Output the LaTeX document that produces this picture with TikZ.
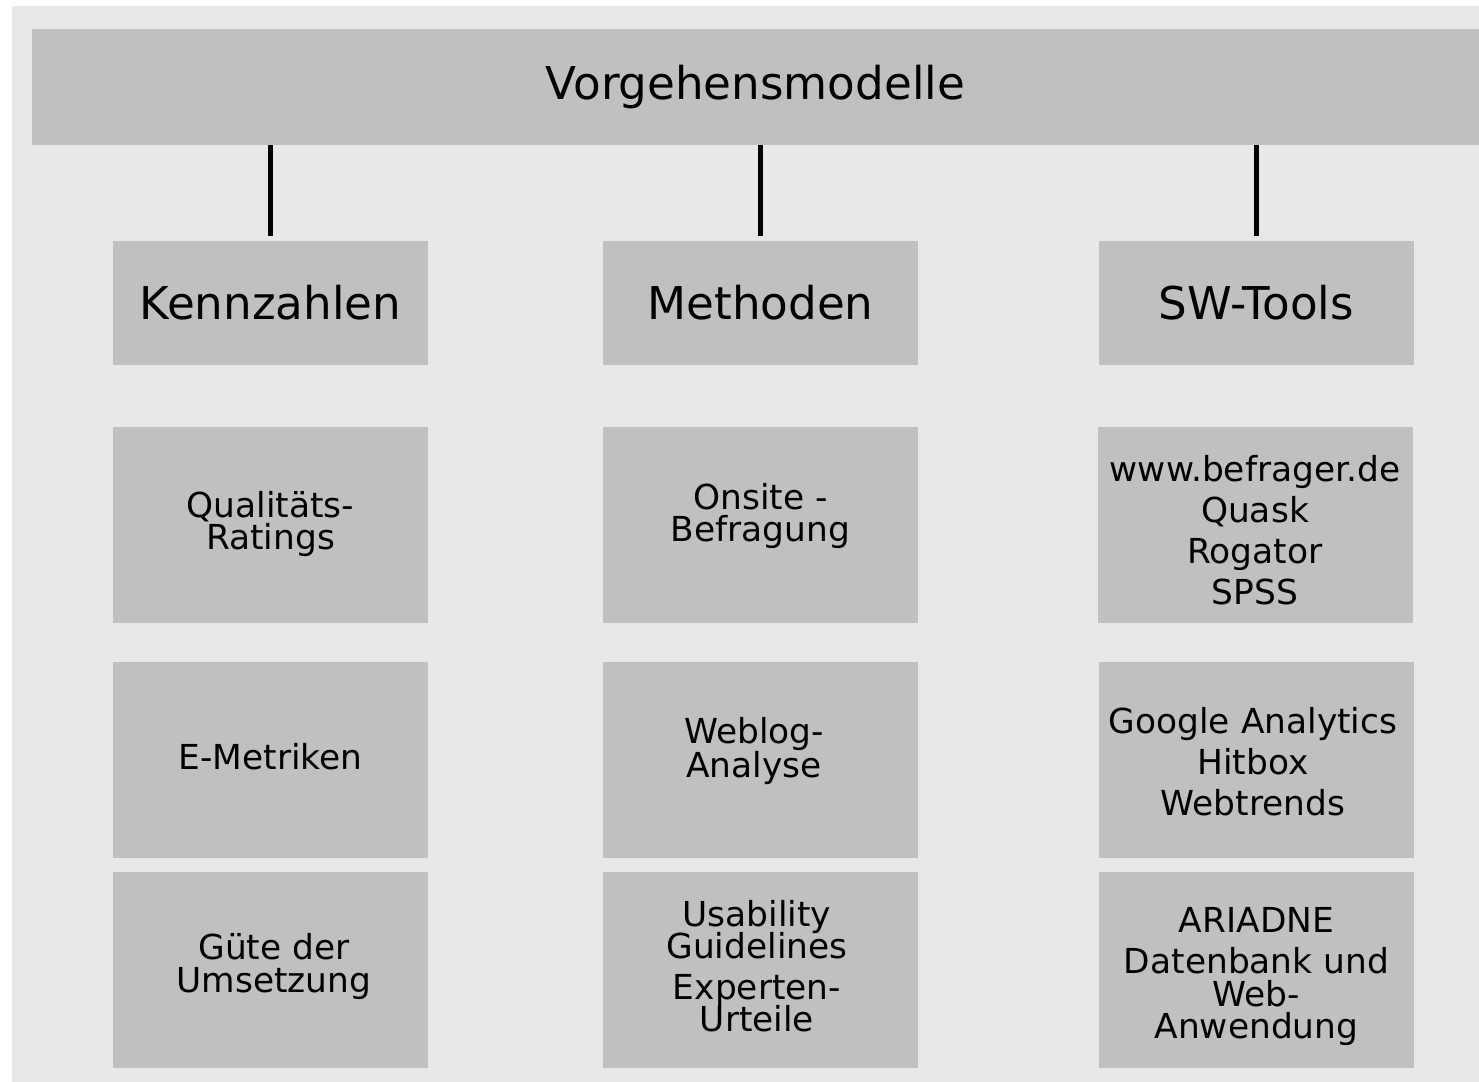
\documentclass[tikz,border=0pt]{standalone}
\usepackage{fontspec}
\setmainfont{DejaVu Sans}
\definecolor{bgc}{HTML}{E8E8E8}
\definecolor{boxc}{HTML}{C0C0C0}
\newcommand{\bigtxt}{\fontsize{22.6}{26}\selectfont}
\newcommand{\smalltxt}{\fontsize{17.2}{20.5}\selectfont}
\begin{document}
\begin{tikzpicture}[x=0.5pt,y=-0.5pt,
  box/.style={fill=boxc,draw=none,inner sep=0pt,minimum width=157.5pt,minimum height=98pt},
  headbox/.style={box,minimum height=62pt,font=\bigtxt},
  txt/.style={inner sep=0pt,align=center,font=\smalltxt},
  conn/.style={draw=black,line width=2.5pt}]
\useasboundingbox (0,0) rectangle (1479,1082);
\fill[white] (0,0) rectangle (1479,1082);
\fill[bgc] (12,6) rectangle (1500,1100);
\node[fill=boxc,inner sep=0pt,minimum width=723.5pt,minimum height=58pt,font=\bigtxt] (top) at (755.5,87) {Vorgehensmodelle};
% headers
\node[headbox] (k) at (270.5,303) {Kennzahlen};
\node[headbox] (m) at (760.5,303) {Methoden};
\node[headbox] (s) at (1256.5,303) {SW-Tools};
% boxes
\node[box] (k1) at (270.5,525) {};
\node[box] (m1) at (760.5,525) {};
\node[box] (s1) at (1255,525) {};
\node[box] (k2) at (270.5,760) {};
\node[box] (m2) at (760.5,760) {};
\node[box] (s2) at (1256.5,760) {};
\node[box] (k3) at (270.5,970) {};
\node[box] (m3) at (760.5,970) {};
\node[box] (s3) at (1256.5,970) {};
% texts
\node[txt] (k1t) at (270.5,524) {Qualitäts-\\[-4.5pt]Ratings};
\node[txt] (m1t) at (760.5,516) {Onsite -\\[-4.5pt]Befragung};
\node[txt] (s1t) at (1255,530) {www.befrager.de\\Quask\\Rogator\\SPSS};
\node[txt] (k2t) at (270.5,757) {E-Metriken};
\node[txt] (m2t) at (754,751) {Weblog-\\[-3.5pt]Analyse};
\node[txt] (s2t) at (1253,762) {Google Analytics\\Hitbox\\Webtrends};
\node[txt] (k3t) at (274,966) {Güte der\\[-4pt]Umsetzung};
\node[txt] (m3t) at (757,966) {Usability\\[-4.5pt]Guidelines\\[0pt]Experten-\\[-4.5pt]Urteile};
\node[txt] (s3t) at (1256.5,977) {ARIADNE\\Datenbank und\\[-4pt]Web-\\[-4.5pt]Anwendung};
% connectors
\draw[conn] (k.north |- top.south) -- ([yshift=2.5pt]k.north);
\draw[conn] (m.north |- top.south) -- ([yshift=2.5pt]m.north);
\draw[conn] (s.north |- top.south) -- ([yshift=2.5pt]s.north);
\end{tikzpicture}
\end{document}
